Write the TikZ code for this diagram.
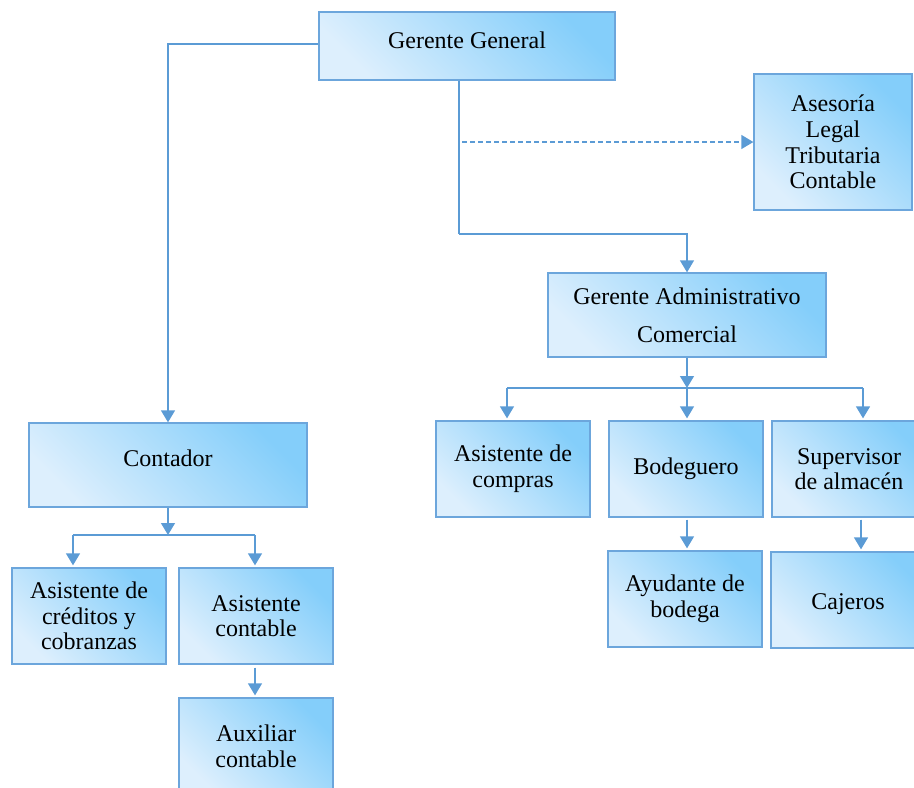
\documentclass[tikz,border=0pt]{standalone}
\usepackage{fontspec}
\setmainfont{Liberation Serif}
\usetikzlibrary{arrows.meta}
\definecolor{boxdark}{HTML}{84CEFA}
\definecolor{boxlight}{HTML}{DDEFFD}
\definecolor{boxline}{HTML}{6CA6DC}
\definecolor{linkcol}{HTML}{5B9BD5}
\begin{document}
\begin{tikzpicture}[x=1pt,y=-1pt,
		cargo/.style={draw=boxline,line width=1.3pt,top color=boxdark,bottom color=boxlight,
			shading angle=-45,align=center,inner sep=2pt,font=\fontsize{24}{25.6}\selectfont},
		small/.style={minimum width=154pt,minimum height=96pt},
		link/.style={draw=linkcol,line width=1.4pt,-{Triangle[width=14pt,length=12pt]}},
		tie/.style={draw=linkcol,line width=1.4pt}]
	\useasboundingbox (0,0) rectangle (914,788);
	% direccion
	\node[cargo,minimum width=296pt,minimum height=68pt,text height=17pt,text depth=13pt] (gg) at (467,46) {Gerente General};
	\node[cargo,minimum width=158pt,minimum height=136pt] (ases) at (833,142) {Asesoría\\Legal\\Tributaria\\Contable};
	\node[cargo,minimum width=278pt,minimum height=84pt] (ga) at (687,315) {Gerente Administrativo\\[12pt]Comercial};
	\node[cargo,minimum width=278pt,minimum height=84pt,text height=17pt,text depth=14pt] (cont) at (168,465) {Contador};
	% area comercial
	\node[cargo,small] (compras) at (513,469) {Asistente de\\compras};
	\node[cargo,small] (bodeg) at (686,469) {Bodeguero};
	\node[cargo,small] (superv) at (849,469) {Supervisor\\de almacén};
	\node[cargo,small] (ayud) at (685,599) {Ayudante de\\bodega};
	\node[cargo,small,text height=24pt,text depth=5pt] (cajeros) at (848,600) {Cajeros};
	% area contable
	\node[cargo,small] (cred) at (89,616) {Asistente de\\créditos y\\cobranzas};
	\node[cargo,small] (acont) at (256,616) {Asistente\\contable};
	\node[cargo,small] (aux) at (256,746) {Auxiliar\\contable};
	% conectores
	\coordinate (bga) at (459,234);
	\coordinate (dstart) at (462,142);
	\coordinate (bar1) at (687,388);
	\coordinate (bar1l) at (507,388);
	\coordinate (bar1r) at (863,388);
	\coordinate (bar2) at (168,535);
	\coordinate (bar2l) at (73,535);
	\coordinate (bar2r) at (255,535);
	\draw[link] ([yshift=2pt]gg.west) -| (cont.north);
	\draw[tie] (gg.south -| bga) -- (bga);
	\draw[link] (bga) -| (ga.north);
	\draw[link,dashed,dash pattern=on 5pt off 3pt] (dstart) -- (ases.west);
	\draw[tie] (bar1l) -- (bar1r);
	\draw[link] (ga.south) -- (bar1);
	\draw[link,shorten >=2pt] (bar1l) -- (bar1l |- compras.north);
	\draw[link,shorten >=2pt] (bar1) -- (bar1 |- bodeg.north);
	\draw[link,shorten >=2pt] (bar1r) -- (bar1r |- superv.north);
	\draw[link,shorten <=2pt,shorten >=2pt] (bodeg.south -| bar1) -- (ayud.north -| bar1);
	\draw[link,shorten <=2pt,shorten >=2pt] ([xshift=12pt]superv.south) -- ([xshift=13pt]cajeros.north);
	\draw[tie] (bar2l) -- (bar2r);
	\draw[link] (cont.south) -- (bar2);
	\draw[link,shorten >=2pt] (bar2l) -- (bar2l |- cred.north);
	\draw[link,shorten >=2pt] (bar2r) -- (bar2r |- acont.north);
	\draw[link,shorten <=3pt,shorten >=2pt] (bar2r |- acont.south) -- (bar2r |- aux.north);
\end{tikzpicture}
\end{document}
